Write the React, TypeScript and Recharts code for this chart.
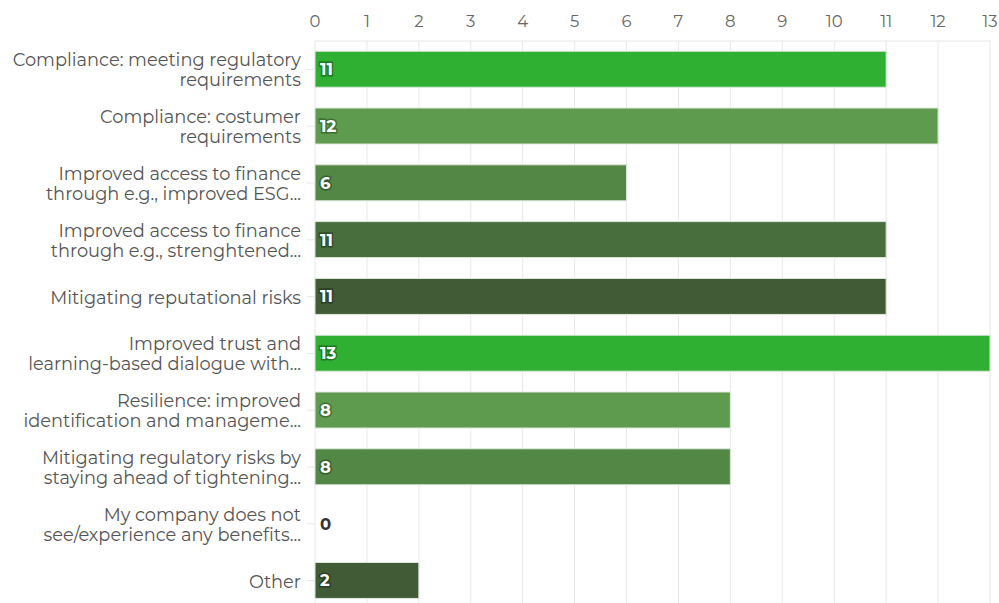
import { BarChart, Bar, XAxis, YAxis, CartesianGrid, Cell, LabelList } from "recharts";

const categories = [
  "Compliance: meeting regulatory\nrequirements",
  "Compliance: costumer\nrequirements",
  "Improved access to finance\nthrough e.g., improved ESG...",
  "Improved access to finance\nthrough e.g., strenghtened...",
  "Mitigating reputational risks",
  "Improved trust and\nlearning-based dialogue with...",
  "Resilience: improved\nidentification and manageme...",
  "Mitigating regulatory risks by\nstaying ahead of tightening...",
  "My company does not\nsee/experience any benefits...",
  "Other",
];
const counts = [11, 12, 6, 11, 11, 13, 8, 8, 0, 2];
const xTicks = [0, 1, 2, 3, 4, 5, 6, 7, 8, 9, 10, 11, 12, 13];
const palette = ["#30b033", "#5f9b4e", "#528745", "#496e3e", "#415b37"];
const outline = ["#1e7a1f", "#3f6f33", "#355e2d", "#2f4a28", "#2a3d24"];

const data = categories.map((c, i) => ({ name: c, value: counts[i] }));

const font = "Montserrat, 'Noto Sans', sans-serif";

function CategoryTick(props: any) {
  const { x, y, payload } = props;
  const lines: string[] = String(payload.value).split("\n");
  const lh = 20;
  const start = y - ((lines.length - 1) * lh) / 2;
  return (
    <text x={x - 4} y={start} textAnchor="end" fill="#555" fontSize={17.8} fontFamily={font} dominantBaseline="central">
      {lines.map((l, i) => (
        <tspan key={i} x={x - 4} y={start + i * lh}>
          {l}
        </tspan>
      ))}
    </text>
  );
}

function ValueLabel(props: any) {
  const { x, y, height, value, index } = props;
  const zero = value === 0;
  return (
    <text
      x={x + 5}
      y={y + height / 2}
      dominantBaseline="central"
      fontFamily={font}
      fontWeight={700}
      fontSize={16.5}
      fill={zero ? "#333" : "#fff"}
      stroke={zero ? "none" : outline[index % 5]}
      strokeWidth={3}
      paintOrder="stroke"
    >
      {value}
    </text>
  );
}

export default function App() {
  return (
    <div style={{ position: "absolute", left: 0, top: 0, width: 999, height: 603, overflow: "hidden", background: "#fff" }}>
      <BarChart
        width={999}
        height={609}
        data={data}
        layout="vertical"
        margin={{ top: 0, right: 9, bottom: 0, left: 0 }}
        barCategoryGap="18%"
      >
        <CartesianGrid horizontal={false} stroke="#e8e8e8" />
        <XAxis
          type="number"
          orientation="top"
          domain={[0, 13]}
          ticks={xTicks}
          interval={0}
          height={41}
          axisLine={{ stroke: "#e6e6e6" }}
          tickLine={false}
          tick={{ fill: "#666", fontSize: 16.5, fontFamily: font }}
          tickMargin={8}
        />
        <YAxis
          type="category"
          dataKey="name"
          width={315}
          interval={0}
          axisLine={false}
          tickLine={{ stroke: "#e6e6e6" }}
          tickSize={8}
          tick={<CategoryTick />}
        />
        <Bar dataKey="value" isAnimationActive={false} strokeWidth={1} minPointSize={1}>
          {data.map((d, i) => (
            <Cell
              key={i}
              fill={d.value === 0 ? "transparent" : palette[i % 5]}
              stroke={d.value === 0 ? "none" : "#dfe8dc"}
            />
          ))}
          <LabelList dataKey="value" content={<ValueLabel />} />
        </Bar>
      </BarChart>
    </div>
  );
}
